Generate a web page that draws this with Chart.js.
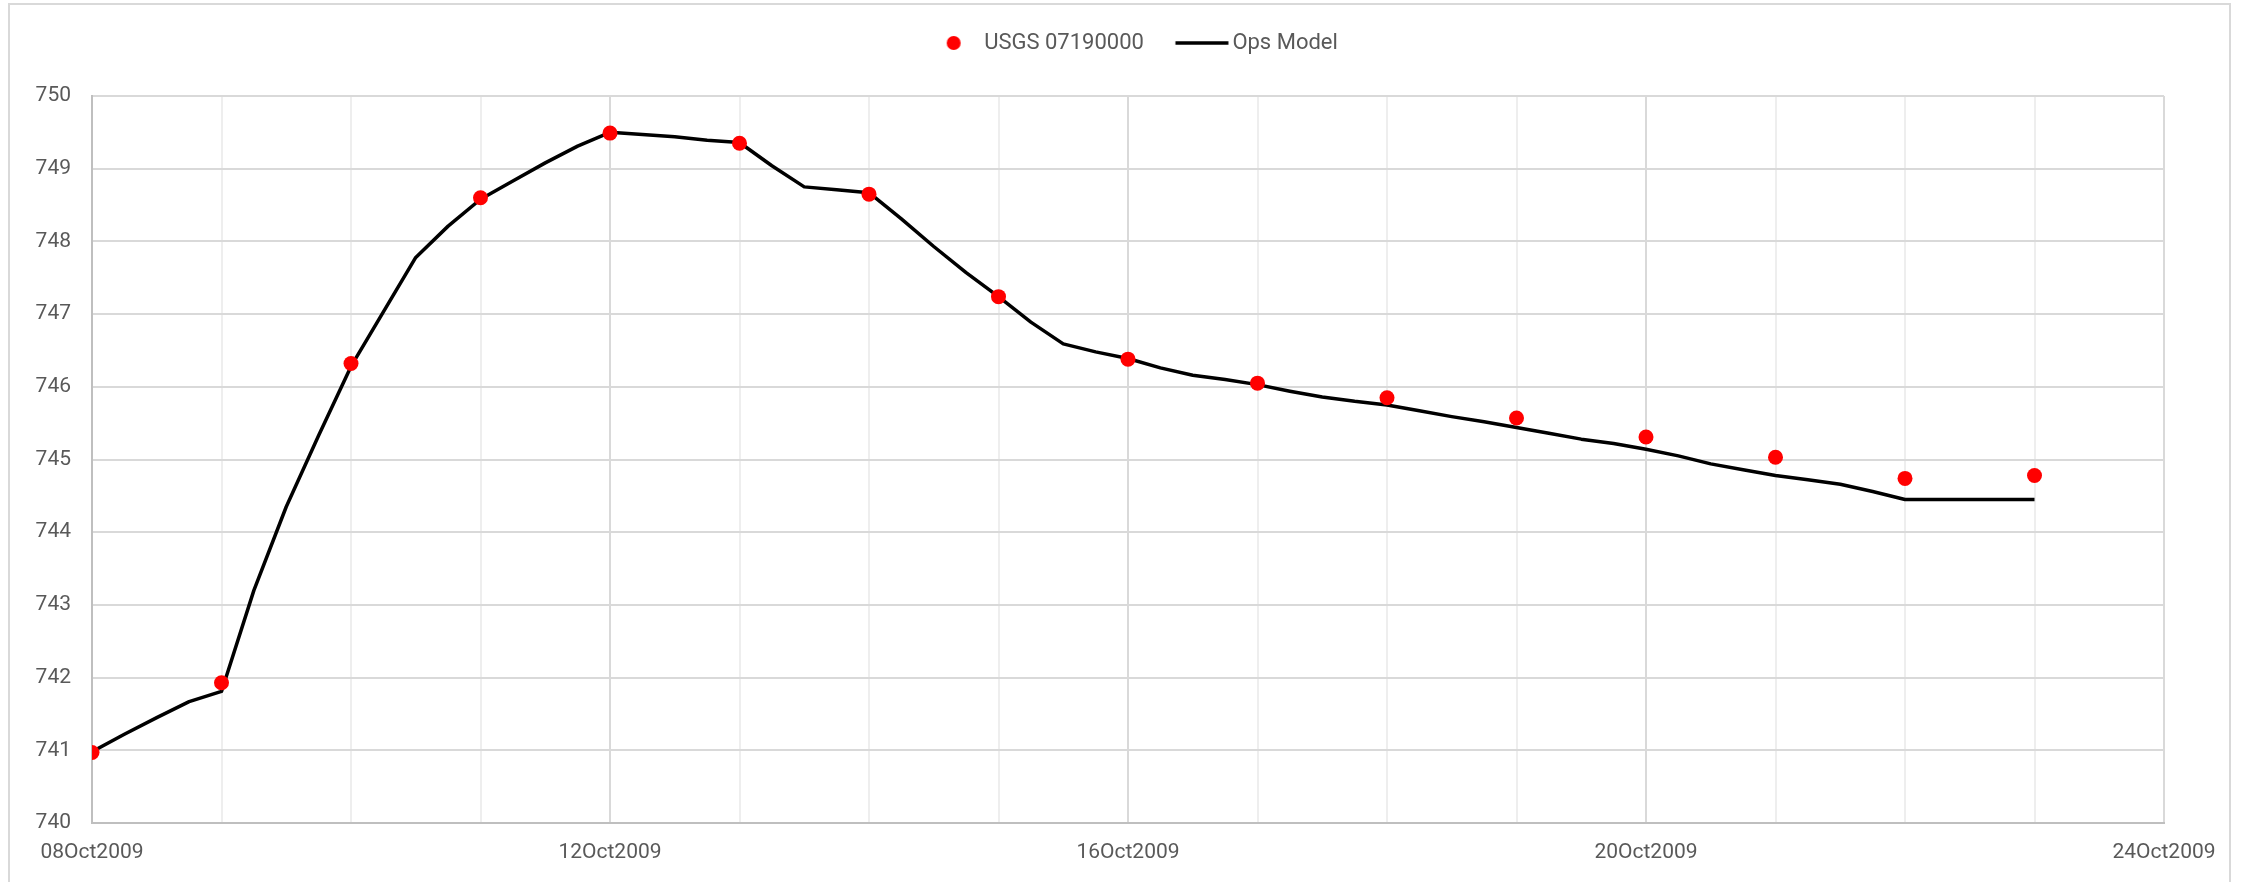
<!DOCTYPE html>
<html>
<head>
<meta charset="utf-8">
<title>USGS 07190000 vs Ops Model</title>
<script src="https://cdn.jsdelivr.net/npm/chart.js@4/dist/chart.umd.min.js"></script>
<style>
  html, body { margin: 0; padding: 0; background: #ffffff; overflow: hidden; }
  canvas { display: block; }
</style>
</head>
<body>
<canvas id="stage" width="2252" height="882"></canvas>
<script>
// Daily gauge readings, 08 Oct 2009 through 23 Oct 2009 (midnight)
const obsDates = ['2009-10-08', '2009-10-09', '2009-10-10', '2009-10-11', '2009-10-12', '2009-10-13',
  '2009-10-14', '2009-10-15', '2009-10-16', '2009-10-17', '2009-10-18', '2009-10-19',
  '2009-10-20', '2009-10-21', '2009-10-22', '2009-10-23'];
const obsStage = [740.97, 741.93, 746.32, 748.60, 749.49, 749.35, 748.65, 747.24,
  746.38, 746.05, 745.85, 745.57, 745.31, 745.03, 744.74, 744.78];

// Model output every 6 hours from 08 Oct 2009 00:00 to 23 Oct 2009 00:00
const modelStart = '2009-10-08';
const modelStepHours = 6;
const modelStage = [
  740.98, 741.22, 741.45, 741.67,   // 08 Oct
  741.81, 743.20, 744.35, 745.33,   // 09 Oct
  746.28, 747.03, 747.78, 748.21,   // 10 Oct
  748.58, 748.83, 749.08, 749.31,   // 11 Oct
  749.50, 749.47, 749.44, 749.39,   // 12 Oct
  749.36, 749.04, 748.75, 748.71,   // 13 Oct
  748.67, 748.31, 747.93, 747.57,   // 14 Oct
  747.24, 746.89, 746.59, 746.48,   // 15 Oct
  746.39, 746.26, 746.16, 746.10,   // 16 Oct
  746.03, 745.94, 745.86, 745.80,   // 17 Oct
  745.75, 745.67, 745.59, 745.52,   // 18 Oct
  745.44, 745.36, 745.28, 745.22,   // 19 Oct
  745.14, 745.05, 744.94, 744.86,   // 20 Oct
  744.78, 744.72, 744.66, 744.56,   // 21 Oct
  744.45, 744.45, 744.45, 744.45,   // 22 Oct
  744.45                            // 23 Oct
];

// Axis labelling
const axisStart = '2009-10-08';
const axisDays = 16;
const xTickLabels = ['08Oct2009', '12Oct2009', '16Oct2009', '20Oct2009', '24Oct2009'];
const yMin = 740, yMax = 750;

const DAY = 86400000;
const dayOffset = (iso) => (Date.parse(iso + 'T00:00:00Z') - Date.parse(axisStart + 'T00:00:00Z')) / DAY;

const obsPoints = obsDates.map((d, i) => ({ x: dayOffset(d), y: obsStage[i] }));
const modelOrigin = dayOffset(modelStart);
const modelPoints = modelStage.map((v, i) => ({ x: modelOrigin + i * modelStepHours / 24, y: v }));

// Legend glyphs: a red dot and a short black stroke
function legendDot() {
  const c = document.createElement('canvas');
  c.width = 40; c.height = 16;
  const g = c.getContext('2d');
  g.fillStyle = '#ff0000';
  g.beginPath(); g.arc(30, 8, 7, 0, Math.PI * 2); g.fill();
  return c;
}
function legendStroke() {
  const c = document.createElement('canvas');
  c.width = 80; c.height = 8;
  const g = c.getContext('2d');
  g.strokeStyle = '#000000'; g.lineWidth = 3.5;
  g.beginPath(); g.moveTo(23.5, 4); g.lineTo(76.5, 4); g.stroke();
  return c;
}
const legendGlyphs = [legendDot(), legendStroke()];

const frame = {
  id: 'frame',
  beforeDraw(chart) {
    const ctx = chart.ctx;
    ctx.save();
    ctx.fillStyle = '#ffffff';
    ctx.fillRect(0, 0, chart.width, chart.height);
    ctx.strokeStyle = '#d9d9d9';
    ctx.lineWidth = 2;
    ctx.strokeRect(9, 4, 2221, 900);
    ctx.restore();
  }
};

Chart.defaults.font.family = 'Roboto, "Liberation Sans", sans-serif';
Chart.defaults.color = '#595959';

new Chart(document.getElementById('stage'), {
  type: 'scatter',
  data: {
    datasets: [
      {
        label: 'USGS 07190000',
        data: obsPoints,
        backgroundColor: '#ff0000',
        borderColor: '#ff0000',
        pointRadius: 7.5,
        pointBorderWidth: 0,
        pointHoverRadius: 7.5
      },
      {
        type: 'line',
        label: 'Ops Model',
        data: modelPoints,
        borderColor: '#000000',
        backgroundColor: '#000000',
        borderWidth: 3.5,
        pointRadius: 0,
        fill: false,
        tension: 0,
        borderJoinStyle: 'round',
        borderCapStyle: 'butt'
      }
    ]
  },
  options: {
    responsive: false,
    devicePixelRatio: 1,
    animation: false,
    layout: { padding: { top: 13.5, left: 0, right: 0, bottom: 0 } },
    plugins: {
      tooltip: { enabled: false },
      legend: {
        position: 'top',
        weight: 3000,
        labels: {
          usePointStyle: true,
          pointStyleWidth: 59,
          padding: 18.5,
          color: '#595959',
          font: { size: 22 },
          generateLabels(chart) {
            const items = Chart.defaults.plugins.legend.labels.generateLabels(chart);
            items.forEach((it, i) => { it.pointStyle = legendGlyphs[i]; });
            return items;
          }
        }
      },
      title: {
        display: true,
        text: '',
        padding: { top: 0, bottom: 0 },
        font: { size: 32, lineHeight: 1 }
      }
    },
    scales: {
      x: {
        type: 'linear',
        min: 0,
        max: axisDays,
        afterFit(scale) { scale.height = 59; scale.paddingRight = 88; },
        grid: {
          color: (c) => (c.tick && c.tick.value % 4 === 0) ? '#d9d9d9' : '#eeeeee',
          lineWidth: 2,
          drawTicks: false
        },
        border: { display: true, color: '#bfbfbf', width: 2 },
        ticks: {
          stepSize: 1,
          autoSkip: false,
          maxRotation: 0,
          padding: 17,
          color: '#595959',
          font: { size: 21 },
          callback: (v) => (v % 4 === 0) ? xTickLabels[v / 4] : ''
        }
      },
      y: {
        min: yMin,
        max: yMax,
        afterFit(scale) { scale.width = 92; },
        grid: { color: '#d9d9d9', lineWidth: 2, drawTicks: false },
        border: { display: true, color: '#bfbfbf', width: 2 },
        ticks: {
          stepSize: 1,
          padding: 21,
          color: '#595959',
          font: { size: 21 }
        }
      }
    }
  },
  plugins: [frame]
});
</script>
</body>
</html>
